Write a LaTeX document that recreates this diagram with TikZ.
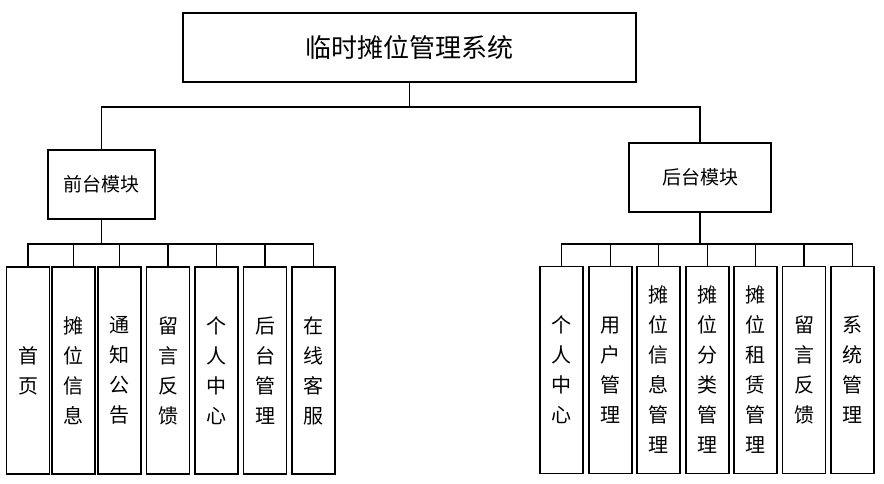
\documentclass[tikz,border=0pt]{standalone}
\usepackage{fontspec}
\newfontfamily\cjk{Noto Sans CJK SC}
\begin{document}
\begin{tikzpicture}[x=1pt, y=-1pt, font=\cjk,
  box/.style={draw, line width=1.5pt, fill=white, inner sep=0pt},
  top/.style={box, minimum width=453pt, minimum height=69pt, font=\cjk\fontsize{26}{30}\selectfont},
  mid/.style={box, minimum height=69pt, font=\cjk\fontsize{19}{24}\selectfont},
  leaf/.style={box, minimum width=43pt, minimum height=207pt, align=center,
               font=\cjk\fontsize{20}{30}\selectfont},
  wire/.style={line width=1.5pt},
]
  \useasboundingbox (0,0) rectangle (884,484);

  \node[top] (root) at (409.5,47.5) {临时摊位管理系统};
  \node[mid, minimum width=107pt] (front) at (101.5,184.5) {前台模块};
  \node[mid, minimum width=142pt] (back)  at (700,177.5)   {后台模块};

  % front end leaves
  \node[leaf] (f1) at (28,370.5)    {首\\页};
  \node[leaf] (f2) at (73.5,370.5)  {摊\\位\\信\\息};
  \node[leaf] (f3) at (119.5,370.5) {通\\知\\公\\告};
  \node[leaf] (f4) at (168,370.5)   {留\\言\\反\\馈};
  \node[leaf] (f5) at (216.5,370.5) {个\\人\\中\\心};
  \node[leaf] (f6) at (265,370.5)   {后\\台\\管\\理};
  \node[leaf] (f7) at (313.5,370.5) {在\\线\\客\\服};

  % back end leaves
  \node[leaf] (b1) at (561.5,370)   {个\\人\\中\\心};
  \node[leaf] (b2) at (610.5,370)   {用\\户\\管\\理};
  \node[leaf] (b3) at (658.5,370)   {摊\\位\\信\\息\\管\\理};
  \node[leaf] (b4) at (707.5,370)   {摊\\位\\分\\类\\管\\理};
  \node[leaf] (b5) at (755.5,370)   {摊\\位\\租\\赁\\管\\理};
  \node[leaf] (b6) at (804,370)     {留\\言\\反\\馈};
  \node[leaf] (b7) at (852.5,370)   {系\\统\\管\\理};

  % connectors
  \coordinate (tbus) at (409.5,107);
  \coordinate (fbus) at (101.5,244);
  \coordinate (bbus) at (700,244);
  \draw[wire] (root.south) -- (tbus);
  \draw[wire] (front.north) |- (tbus) -| (back.north);
  \draw[wire] (front.south) -- (fbus);
  \draw[wire] (back.south) -- (bbus);
  \foreach \n in {f1,f2,f3,f4,f5,f6,f7}
    \draw[wire] (fbus) -| (\n.north);
  \foreach \n in {b1,b2,b3,b4,b5,b6,b7}
    \draw[wire] (bbus) -| (\n.north);
\end{tikzpicture}
\end{document}
